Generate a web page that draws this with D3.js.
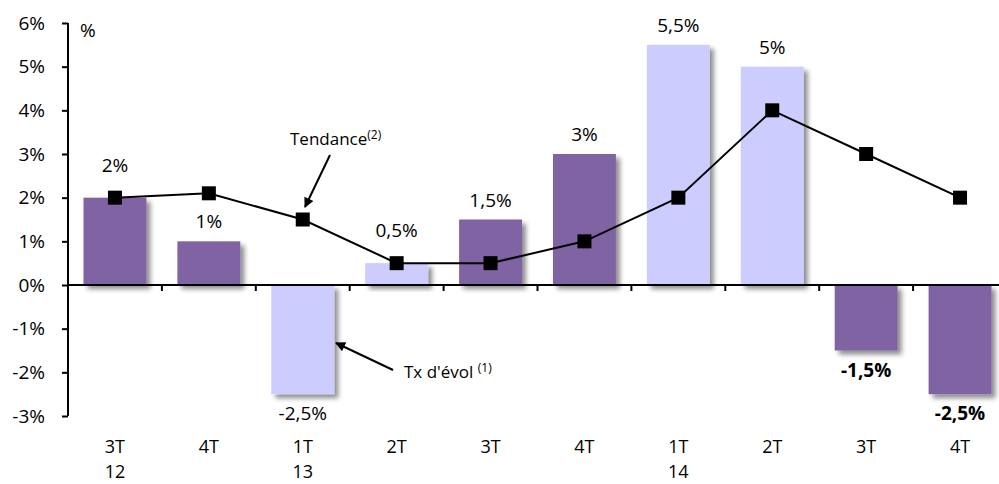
<!DOCTYPE html>
<html><head><meta charset="utf-8">
<script src="https://cdn.jsdelivr.net/npm/d3@7"></script>
<style>
html,body{margin:0;padding:0;background:#fff;}
text{font-family:"Open Sans","Noto Sans",sans-serif;fill:#000;}
</style></head>
<body>
<svg id="c" width="999" height="484"></svg>
<script>
const quarters = ["3T","4T","1T","2T","3T","4T","1T","2T","3T","4T"];
const years = ["12","","13","","","","14","","",""];
const evolution = [2, 1, -2.5, 0.5, 1.5, 3, 5.5, 5, -1.5, -2.5];
const tendance = [2, 2.1, 1.5, 0.5, 0.5, 1, 2, 4, 3, 2];
const barLabels = ["2%","1%","-2,5%","0,5%","1,5%","3%","5,5%","5%","-1,5%","-2,5%"];
const boldLabel = [false,false,false,false,false,false,false,false,true,true];
const barShade = ["dark","dark","light","light","dark","dark","light","light","dark","dark"];
const yTicks = [-3,-2,-1,0,1,2,3,4,5,6];

(function(){
const svg = d3.select("#c");
const mLeft = 68, mRight = 1007, mTop = 23, mBottom = 416;
const colors = {dark:"#8064A2", light:"#CCCCFF"};
const idx = d3.range(quarters.length);
const fs = 19;

const x = d3.scaleBand().domain(idx).range([mLeft, mRight]).paddingInner(0).paddingOuter(0);
const y = d3.scaleLinear().domain([-3, 6]).range([mBottom, mTop]);
const bw = x.bandwidth() * 0.67;
const cx = i => x(i) + x.bandwidth() / 2;

const defs = svg.append("defs");
const f = defs.append("filter").attr("id","sh").attr("x","-20%").attr("y","-20%").attr("width","150%").attr("height","150%");
f.append("feGaussianBlur").attr("in","SourceAlpha").attr("stdDeviation",2.5).attr("result","b");
f.append("feOffset").attr("in","b").attr("dx",4).attr("dy",4).attr("result","o");
f.append("feComponentTransfer").attr("in","o").attr("result","oa").append("feFuncA").attr("type","linear").attr("slope",0.45);
const m = f.append("feMerge"); m.append("feMergeNode").attr("in","oa"); m.append("feMergeNode").attr("in","SourceGraphic");

const mk = defs.append("marker").attr("id","arr").attr("viewBox","0 0 10 10").attr("refX",9).attr("refY",5)
  .attr("markerWidth",14).attr("markerHeight",10).attr("markerUnits","userSpaceOnUse").attr("orient","auto");
mk.append("path").attr("d","M0,0 L10,5 L0,10 z").attr("fill","#000");

// bars
svg.append("g").selectAll("rect").data(idx).join("rect")
  .attr("x", i => cx(i) - bw/2)
  .attr("y", i => y(Math.max(0, evolution[i])))
  .attr("width", bw)
  .attr("height", i => Math.abs(y(evolution[i]) - y(0)))
  .attr("fill", i => colors[barShade[i]])
  .attr("filter","url(#sh)");

// y axis
const yAxis = d3.axisLeft(y).tickValues(yTicks).tickFormat(d => d + "%").tickSize(6).tickSizeOuter(0);
const gy = svg.append("g").attr("transform",`translate(${mLeft},0)`).call(yAxis);
gy.select(".domain").attr("stroke","#000").attr("stroke-width",2).attr("d",`M0,${mTop}V${mBottom}`);
gy.selectAll(".tick line").attr("stroke","#000").attr("stroke-width",2);
gy.selectAll(".tick text").attr("x",-23).attr("font-size",fs).attr("fill","#000").style("font-family","'Open Sans',sans-serif");

// x axis at zero
const xs = d3.scaleLinear().domain([0, quarters.length]).range([mLeft, mRight]);
svg.append("line").attr("x1",mLeft).attr("x2",999).attr("y1",y(0)).attr("y2",y(0)).attr("stroke","#000").attr("stroke-width",2);
svg.append("g").selectAll("line").data(d3.range(1, quarters.length)).join("line")
  .attr("x1", k => xs(k)).attr("x2", k => xs(k)).attr("y1", y(0)).attr("y2", y(0)+6)
  .attr("stroke","#000").attr("stroke-width",2);

// x labels
const xl = svg.append("g");
xl.selectAll("text.q").data(idx).join("text").attr("class","q")
  .attr("x", cx).attr("y", 453).attr("text-anchor","middle").attr("font-size",18).text(i => quarters[i]);
xl.selectAll("text.yr").data(idx.filter(i => years[i])).join("text").attr("class","yr")
  .attr("x", cx).attr("y", 478).attr("text-anchor","middle").attr("font-size",18).text(i => years[i]);

// trend line
const line = d3.line().x((d,i) => cx(i)).y(d => y(d));
svg.append("path").datum(tendance).attr("d", line).attr("fill","none").attr("stroke","#000").attr("stroke-width",2);
svg.append("g").selectAll("rect").data(idx).join("rect")
  .attr("x", i => cx(i) - 7).attr("y", i => y(tendance[i]) - 7).attr("width",14).attr("height",14).attr("fill","#000");

// bar labels
svg.append("g").selectAll("text").data(idx).join("text")
  .attr("x", cx)
  .attr("y", i => {
    const v = evolution[i];
    if (v < 0) return y(v) + 26;
    const gap = (Math.abs(tendance[i] - v) < 0.3) ? 26 : 13;
    return y(v) - gap;
  })
  .attr("text-anchor","middle").attr("font-size",fs)
  .attr("font-weight", i => boldLabel[i] ? "bold" : "normal")
  .text(i => barLabels[i]);

// annotations
svg.append("text").attr("x",80).attr("y",37).attr("font-size",fs).text("%");
const t = svg.append("text").attr("x",290).attr("y",145).attr("font-size",17).text("Tendance");
t.append("tspan").attr("font-size",12).attr("dy",-6).text("(2)");
svg.append("line").attr("x1",330).attr("y1",155).attr("x2",305).attr("y2",207)
  .attr("stroke","#000").attr("stroke-width",2).attr("marker-end","url(#arr)");
const t2 = svg.append("text").attr("x",404).attr("y",378).attr("font-size",17).text("Tx d'évol ");
t2.append("tspan").attr("font-size",12).attr("dy",-6).text("(1)");
svg.append("line").attr("x1",393).attr("y1",370).attr("x2",336).attr("y2",343)
  .attr("stroke","#000").attr("stroke-width",2).attr("marker-end","url(#arr)");
})();
</script>
</body></html>
